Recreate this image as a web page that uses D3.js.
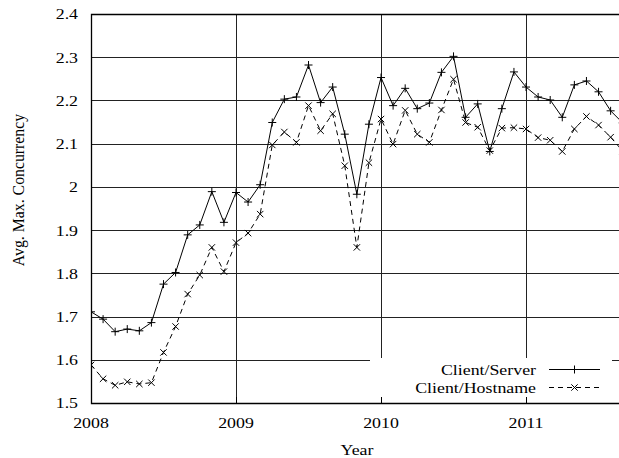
<!DOCTYPE html>
<html>
<head>
<meta charset="utf-8">
<script src="https://cdn.jsdelivr.net/npm/d3@7"></script>
<style>
  body { margin: 0; background: #fff; }
  svg { display: block; font-family: "Liberation Serif", "Times New Roman", serif; }
</style>
</head>
<body>
<svg id="chart" width="619" height="458"></svg>
<script>
// monthly samples, Jan 2008 .. Sep 2011
const months = d3.range(45).map(i => 2008 + i / 12);

const clientServer = [
  1.711, 1.694, 1.665, 1.671, 1.667, 1.686, 1.775, 1.802, 1.889, 1.912,
  1.989, 1.918, 1.987, 1.965, 2.005, 2.149, 2.203, 2.208, 2.282, 2.195,
  2.231, 2.122, 1.983, 2.145, 2.253, 2.188, 2.228, 2.181, 2.194, 2.265,
  2.302, 2.161, 2.192, 2.082, 2.181, 2.266, 2.231, 2.208, 2.201, 2.161,
  2.236, 2.245, 2.220, 2.176, 2.148
];

const clientHostname = [
  1.588, 1.556, 1.541, 1.549, 1.544, 1.547, 1.617, 1.677, 1.752, 1.796,
  1.860, 1.804, 1.871, 1.893, 1.937, 2.097, 2.127, 2.103, 2.188, 2.130,
  2.169, 2.049, 1.860, 2.056, 2.157, 2.099, 2.177, 2.122, 2.103, 2.178,
  2.249, 2.149, 2.138, 2.084, 2.136, 2.137, 2.134, 2.114, 2.108, 2.082,
  2.134, 2.163, 2.143, 2.115, 2.083
];

const yTicks = [1.5, 1.6, 1.7, 1.8, 1.9, 2.0, 2.1, 2.2, 2.3, 2.4];
const yTickLabels = ["1.5", "1.6", "1.7", "1.8", "1.9", "2", "2.1", "2.2", "2.3", "2.4"];
const xTicks = [2008, 2009, 2010, 2011];
const seriesNames = ["Client/Server", "Client/Hostname"];

const pLeft = 91, pTop = 14, pBottom = 403, pRight = 622.7;
const fontSize = 15.5;
const stretch = 1.15;   // the original text is a bit wider than it is tall

const svg = d3.select("#chart");

const x = d3.scaleLinear()
    .domain([2008, 2008 + 44 / 12])
    .range([pLeft, pRight]);

const y = d3.scaleLinear()
    .domain([1.5, 2.4])
    .range([pBottom, pTop]);

const plot = svg.append("g");

// grid
plot.append("g")
    .selectAll("line")
    .data(yTicks.slice(1))
    .join("line")
    .attr("x1", pLeft).attr("x2", pRight)
    .attr("y1", d => Math.round(y(d)) + 0.5).attr("y2", d => Math.round(y(d)) + 0.5)
    .attr("stroke", "#222").attr("stroke-width", 1);

plot.append("g")
    .selectAll("line")
    .data(xTicks.slice(1))
    .join("line")
    .attr("x1", d => Math.round(x(d)) + 0.5).attr("x2", d => Math.round(x(d)) + 0.5)
    .attr("y1", pTop).attr("y2", pBottom)
    .attr("stroke", "#222").attr("stroke-width", 1);

// key background hides the grid underneath
const keyBox = { x0: 370, x1: 612, y0: 358, y1: pBottom };
plot.append("rect")
    .attr("x", keyBox.x0).attr("y", keyBox.y0)
    .attr("width", keyBox.x1 - keyBox.x0).attr("height", keyBox.y1 - keyBox.y0)
    .attr("fill", "#fff");

// inward ticks on the bottom axis
plot.append("g")
    .selectAll("line")
    .data(xTicks)
    .join("line")
    .attr("x1", d => Math.round(x(d)) + 0.5).attr("x2", d => Math.round(x(d)) + 0.5)
    .attr("y1", pBottom).attr("y2", pBottom - 6)
    .attr("stroke", "#000");

// border (right side falls outside the picture)
plot.append("path")
    .attr("d", `M${pRight},${pTop + 0.5}H${pLeft + 0.5}V${pBottom + 0.5}H${pRight}`)
    .attr("fill", "none")
    .attr("stroke", "#000")
    .attr("stroke-width", 1.3);

// axis labels
svg.append("g")
    .attr("class", "wide")
    .attr("font-size", fontSize)
    .attr("text-anchor", "end")
    .selectAll("text")
    .data(yTicks)
    .join("text")
    .attr("x", pLeft - 13)
    .attr("y", d => y(d))
    .attr("dy", "0.35em")
    .text((d, i) => yTickLabels[i]);

svg.append("g")
    .attr("class", "wide")
    .attr("font-size", fontSize)
    .attr("text-anchor", "middle")
    .selectAll("text")
    .data(xTicks)
    .join("text")
    .attr("x", d => x(d))
    .attr("y", 428)
    .text(d => d);

svg.append("g")
    .attr("class", "wide")
    .append("text")
    .attr("x", 357).attr("y", 455)
    .attr("font-size", fontSize)
    .attr("text-anchor", "middle")
    .text("Year");

svg.append("text")
    .attr("transform", "translate(24,190) rotate(-90)")
    .attr("font-size", 15.8)
    .attr("text-anchor", "middle")
    .text("Avg. Max. Concurrency");

// series
const line = d3.line()
    .x((d, i) => x(months[i]))
    .y(d => y(d));

svg.append("defs").append("clipPath").attr("id", "clip")
    .append("rect").attr("x", pLeft).attr("y", 0).attr("width", pRight - pLeft).attr("height", pBottom);

const plusPath = s => `M${-s},0H${s}M0,${-s}V${s}`;
const crossPath = s => `M${-s},${-s}L${s},${s}M${-s},${s}L${s},${-s}`;

const series = [
  { values: clientServer, dash: null, marker: plusPath(4) },
  { values: clientHostname, dash: "5,4", marker: crossPath(3.2) }
];

const g = svg.append("g").attr("clip-path", "url(#clip)");

series.forEach(s => {
  g.append("path")
      .datum(s.values)
      .attr("d", line)
      .attr("fill", "none")
      .attr("stroke", "#000")
      .attr("stroke-width", 1)
      .attr("stroke-dasharray", s.dash);
  g.append("g")
      .selectAll("path")
      .data(s.values)
      .join("path")
      .attr("transform", (d, i) => `translate(${x(months[i])},${y(d)})`)
      .attr("d", s.marker)
      .attr("stroke", "#000")
      .attr("stroke-width", 1)
      .attr("fill", "none");
});

// key
const key = svg.append("g")
    .selectAll("g")
    .data(series)
    .join("g")
    .attr("transform", (d, i) => `translate(0,${375 + i * 18})`);

key.append("text")
    .attr("class", "wide")
    .attr("x", 536)
    .attr("font-size", fontSize)
    .attr("text-anchor", "end")
    .text((d, i) => seriesNames[i]);

key.append("line")
    .attr("x1", 549).attr("x2", 600)
    .attr("y1", -5.5).attr("y2", -5.5)
    .attr("stroke", "#000")
    .attr("stroke-dasharray", d => d.dash);

key.append("path")
    .attr("transform", "translate(574.5,-5.5)")
    .attr("d", d => d.marker)
    .attr("stroke", "#000")
    .attr("fill", "none");

// widen horizontal texts
svg.selectAll(".wide text, text.wide").each(function() {
  const w = this.getComputedTextLength();
  d3.select(this)
      .attr("textLength", w * stretch)
      .attr("lengthAdjust", "spacingAndGlyphs");
});
</script>
</body>
</html>
